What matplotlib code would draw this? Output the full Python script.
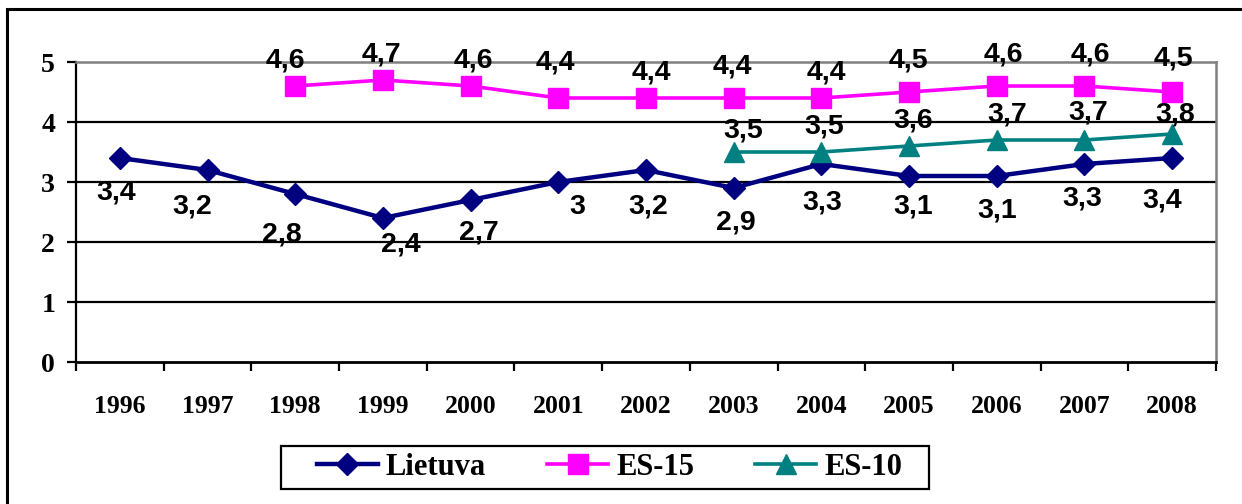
import matplotlib
matplotlib.use("Agg")
import matplotlib.pyplot as plt
from matplotlib.patches import Rectangle
import numpy as np

# duomenys
metai = ["1996", "1997", "1998", "1999", "2000", "2001", "2002",
         "2003", "2004", "2005", "2006", "2007", "2008"]
lietuva = [3.4, 3.2, 2.8, 2.4, 2.7, 3.0, 3.2, 2.9, 3.3, 3.1, 3.1, 3.3, 3.4]
es15 = [np.nan, np.nan, 4.6, 4.7, 4.6, 4.4, 4.4, 4.4, 4.4, 4.5, 4.6, 4.6, 4.5]
es10 = [np.nan, np.nan, np.nan, np.nan, np.nan, np.nan, np.nan,
        3.5, 3.5, 3.6, 3.7, 3.7, 3.8]

# etikeciu poslinkiai pikseliais (dx, dy zemyn)
off_lt = [(-4, 35), (-15, 36), (-13, 41), (18, 27), (8, 32), (19, 25), (2, 37),
          (2, 35), (1, 39), (4, 30), (0, 35), (-2, 35), (-10, 42)]
off_15 = [None, None, (-10, -25), (-1, -25), (3, -26), (-3, -35), (5, -26),
          (-1, -31), (5, -25), (-1, -32), (7, -31), (6, -31), (1, -33)]
off_10 = [None] * 7 + [(10, -22), (3, -25), (4, -25), (10, -25), (4, -27), (3, -19)]

W, H = 1242, 504
fig = plt.figure(figsize=(W / 100, H / 100), dpi=100)
ax = fig.add_axes([76 / W, 1 - 362 / H, (1216 - 76) / W, 300 / H])

x = np.arange(len(metai))
l1, = ax.plot(x, lietuva, color="#000080", lw=3.2, marker="D", ms=10.7, label="Lietuva")
l2, = ax.plot(x, es15, color="#FF00FF", lw=2.6, marker="s", ms=15, label="ES-15")
l3, = ax.plot(x, es10, color="#008080", lw=2.6, marker="^", ms=15, label="ES-10")

def zymes(vals, offs):
    for i, v in enumerate(vals):
        if np.isnan(v):
            continue
        dx, dy = offs[i]
        txt = ("%g" % v).replace(".", ",")
        ax.annotate(txt, (x[i], v), xytext=(dx, -dy), textcoords="offset pixels",
                    ha="center", va="center", fontsize=20.5, fontweight="bold",
                    family="Liberation Sans", zorder=5, annotation_clip=False)

zymes(lietuva, off_lt)
zymes(es15, off_15)
zymes(es10, off_10)

ax.set_xlim(-0.5, 12.5)
ax.set_ylim(0, 5)
ax.set_yticks(range(6))
ax.set_xticks(x)
ax.set_xticklabels(metai)
ax.set_xticks(np.arange(-0.5, 13, 1), minor=True)
ax.tick_params(axis="x", which="major", length=0, pad=23.5)
ax.tick_params(axis="x", which="minor", length=6.5, width=1.6, direction="out")
ax.tick_params(axis="y", length=6.5, width=1.6, direction="out", pad=8.5)
for t in ax.get_xticklabels():
    t.set_fontfamily("Liberation Serif")
    t.set_fontweight("bold")
    t.set_fontsize(18.5)
for t in ax.get_yticklabels():
    t.set_fontfamily("Liberation Serif")
    t.set_fontweight("bold")
    t.set_fontsize(20)

for yv in [1, 2, 3, 4]:
    ax.axhline(yv, color="black", lw=1.6, zorder=0)
ax.spines["left"].set_linewidth(1.6)
ax.spines["bottom"].set_linewidth(2)
ax.spines["top"].set_color("#808080")
ax.spines["right"].set_color("#808080")
ax.spines["top"].set_linewidth(1.8)
ax.spines["right"].set_linewidth(1.8)

# legenda
fig.legend(handles=[l1, l2, l3], loc="center", bbox_to_anchor=(609.5 / W, 1 - 467.5 / H),
           ncol=3, frameon=False, borderpad=0, handlelength=2.0, handletextpad=0.26,
           columnspacing=2.0, prop={"family": "Liberation Serif", "weight": "bold", "size": 22})
fig.patches.append(Rectangle((281 / W, 1 - 489 / H), 648 / W, 43 / H, transform=fig.transFigure,
                             fill=False, edgecolor="black", lw=1.6))

# isorinis remelis
fig.patches.append(Rectangle((7 / W, -0.1), 1.2, 1.1 - 9 / H, transform=fig.transFigure,
                             fill=False, edgecolor="black", lw=2.2))

fig.savefig("out.png", dpi=100)
